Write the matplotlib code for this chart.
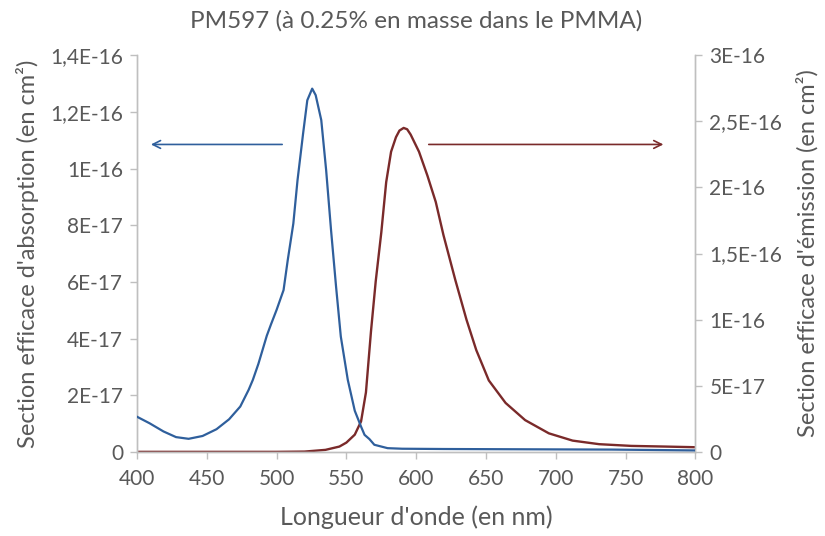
import matplotlib
matplotlib.use("Agg")
import matplotlib.pyplot as plt
from matplotlib.ticker import FixedLocator

# absorption cross-section (left axis)
abs_nm = [400, 409, 419, 428, 437, 447, 457, 466, 474, 480, 483, 487, 493, 496,
          500, 505, 508, 512, 515, 519, 522, 525.5, 528, 532, 535.5, 539, 542.6,
          546, 551, 556, 560.5, 563, 566.5, 570, 579.5, 590, 620, 680, 740, 800]
abs_val = [1.24e-17, 1.01e-17, 0.72e-17, 0.52e-17, 0.46e-17, 0.56e-17, 0.80e-17,
           1.15e-17, 1.60e-17, 2.19e-17, 2.54e-17, 3.11e-17, 4.10e-17, 4.50e-17,
           5.01e-17, 5.71e-17, 6.77e-17, 8.06e-17, 9.59e-17, 11.24e-17, 12.41e-17,
           12.82e-17, 12.59e-17, 11.71e-17, 9.94e-17, 7.83e-17, 5.83e-17, 4.07e-17,
           2.54e-17, 1.45e-17, 0.89e-17, 0.60e-17, 0.45e-17, 0.25e-17, 0.13e-17,
           0.11e-17, 0.10e-17, 0.09e-17, 0.08e-17, 0.05e-17]

# emission cross-section (right axis)
em_nm = [400, 500, 520, 535, 545, 550, 556, 560.5, 564, 567.6, 571, 575, 578.5,
         582, 585.5, 588, 591, 593.5, 596, 602, 608, 614, 619.5, 628, 636, 643,
         652, 664, 678, 695, 712, 731, 754, 778, 800]
em_val = [0.0, 0.0, 0.002e-16, 0.015e-16, 0.04e-16, 0.07e-16, 0.13e-16, 0.23e-16,
          0.45e-16, 0.91e-16, 1.29e-16, 1.66e-16, 2.04e-16, 2.27e-16, 2.38e-16,
          2.43e-16, 2.45e-16, 2.44e-16, 2.40e-16, 2.27e-16, 2.09e-16, 1.89e-16,
          1.64e-16, 1.30e-16, 1.00e-16, 0.77e-16, 0.54e-16, 0.37e-16, 0.24e-16,
          0.14e-16, 0.085e-16, 0.058e-16, 0.045e-16, 0.04e-16, 0.035e-16]

x_ticks = [400, 450, 500, 550, 600, 650, 700, 750, 800]
left_ticks = [0, 2e-17, 4e-17, 6e-17, 8e-17, 1e-16, 1.2e-16, 1.4e-16]
left_labels = ["0", "2E-17", "4E-17", "6E-17", "8E-17", "1E-16", "1,2E-16", "1,4E-16"]
right_ticks = [0, 5e-17, 1e-16, 1.5e-16, 2e-16, 2.5e-16, 3e-16]
right_labels = ["0", "5E-17", "1E-16", "1,5E-16", "2E-16", "2,5E-16", "3E-16"]

BLUE = "#2F5F9C"
RED = "#7A2A2A"
GRAY = "#595959"
AXIS = "#BFBFBF"

plt.rcParams.update({
    "font.family": ["Lato", "DejaVu Sans"],
    "text.color": GRAY,
    "axes.labelcolor": GRAY,
    "xtick.color": AXIS,
    "ytick.color": AXIS,
    "xtick.labelcolor": GRAY,
    "ytick.labelcolor": GRAY,
})

fig = plt.figure(figsize=(8.25, 5.36), dpi=100)
ax = fig.add_axes([0.166, 0.157, 0.677, 0.740])
ax2 = ax.twinx()

ax.plot(abs_nm, abs_val, color=BLUE, lw=1.6, zorder=3)
ax2.plot(em_nm, em_val, color=RED, lw=1.7)
ax.set_zorder(ax2.get_zorder() + 1)
ax.patch.set_visible(False)

ax.set_xlim(400, 800)
ax.set_ylim(0, 1.4e-16)
ax2.set_ylim(0, 3e-16)
ax.xaxis.set_major_locator(FixedLocator(x_ticks))
ax.set_yticks(left_ticks)
ax.set_yticklabels(left_labels)
ax2.set_yticks(right_ticks)
ax2.set_yticklabels(right_labels)

for a in (ax, ax2):
    a.spines["top"].set_visible(False)
    for s in ("left", "right", "bottom"):
        a.spines[s].set_color(AXIS)
        a.spines[s].set_linewidth(1.0)
    a.tick_params(labelsize=15, length=5, width=1.0, pad=5)
ax.tick_params(axis="x", pad=7)

ax.set_xlabel("Longueur d'onde (en nm)", fontsize=18, labelpad=12)
ax.set_ylabel("Section efficace d'absorption (en cm²)", fontsize=17, labelpad=8)
ax2.set_ylabel("Section efficace d'émission (en cm²)", fontsize=17, rotation=90,
               labelpad=10)
ax.set_title("PM597 (à 0.25% en masse dans le PMMA)", fontsize=17.5, color=GRAY, pad=20)

# arrows pointing to each axis
ax.annotate("", xy=(408, 1.085e-16), xytext=(506, 1.085e-16),
            arrowprops=dict(arrowstyle="->", color=BLUE, lw=1.2, mutation_scale=14))
ax.annotate("", xy=(779, 1.085e-16), xytext=(607, 1.085e-16),
            arrowprops=dict(arrowstyle="->", color=RED, lw=1.2, mutation_scale=14))

fig.savefig("out.png", dpi=100)
